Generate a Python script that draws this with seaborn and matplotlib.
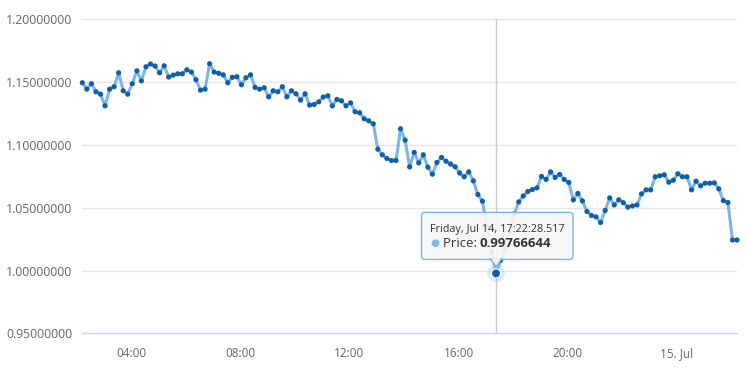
import numpy as np
import pandas as pd
import seaborn as sns
import matplotlib.pyplot as plt
import matplotlib.dates as mdates
from matplotlib.patches import FancyBboxPatch, Polygon, Circle

# price series, one reading every 10 minutes
start_time = "2017-07-14 02:12:28.517"
step = "10min"
price = [
    1.1495, 1.1444, 1.1487, 1.1423, 1.1404, 1.1311, 1.1444, 1.1463, 1.1574, 1.1431,
    1.1404, 1.1487, 1.1590, 1.1510, 1.1622, 1.1644, 1.1628, 1.1574, 1.1630, 1.1540,
    1.1556, 1.1566, 1.1566, 1.1598, 1.1580, 1.1519, 1.1436, 1.1444, 1.1646, 1.1580,
    1.1570, 1.1558, 1.1495, 1.1538, 1.1543, 1.1479, 1.1535, 1.1558, 1.1458, 1.1444,
    1.1455, 1.1383, 1.1431, 1.1423, 1.1463, 1.1383, 1.1431, 1.1407, 1.1357, 1.1407,
    1.1317, 1.1322, 1.1343, 1.1381, 1.1391, 1.1311, 1.1362, 1.1351, 1.1311, 1.1335,
    1.1264, 1.1256, 1.1208, 1.1192, 1.1168, 1.0966, 1.0921, 1.0892, 1.0876, 1.0876,
    1.1128, 1.1038, 1.0825, 1.0940, 1.0857, 1.0921, 1.0823, 1.0767, 1.0860, 1.0900,
    1.0870, 1.0848, 1.0826, 1.0776, 1.0746, 1.0785, 1.0714, 1.0605, 1.0552, 1.0350,
    1.0150, 0.99766644, 1.0080, 1.0180, 1.0300, 1.0450, 1.0546, 1.0594, 1.0629, 1.0645,
    1.0658, 1.0749, 1.0725, 1.0785, 1.0741, 1.0765, 1.0725, 1.0701, 1.0562, 1.0613,
    1.0554, 1.0470, 1.0438, 1.0427, 1.0382, 1.0478, 1.0578, 1.0522, 1.0563, 1.0540,
    1.0505, 1.0514, 1.0522, 1.0610, 1.0642, 1.0642, 1.0746, 1.0754, 1.0762, 1.0703,
    1.0719, 1.0770, 1.0746, 1.0746, 1.0642, 1.0711, 1.0674, 1.0695, 1.0695, 1.0698,
    1.0650, 1.0557, 1.0541, 1.0243, 1.0243,
]
hover_index = 91  # the point under the tooltip

tick_times = ["2017-07-14 04:00", "2017-07-14 08:00", "2017-07-14 12:00",
              "2017-07-14 16:00", "2017-07-14 20:00", "2017-07-15 00:00"]
tick_labels = ["04:00", "08:00", "12:00", "16:00", "20:00", "15. Jul"]
y_ticks = [0.95, 1.00, 1.05, 1.10, 1.15, 1.20]

df = pd.DataFrame({
    "time": pd.date_range(start_time, periods=len(price), freq=step),
    "price": price,
})

sns.set_style("white")
plt.rcParams["font.family"] = ["Open Sans", "DejaVu Sans"]

LINE = "#7cb5ec"
MARK = "#0f5fa6"
TXT = "#666666"

fig = plt.figure(figsize=(7.47, 3.70), dpi=100)
ax = fig.add_axes([82.3 / 747, (370 - 333.3) / 370, (737 - 82.3) / 747, (333.3 - 19.3) / 370])

sns.lineplot(data=df, x="time", y="price", ax=ax, color=LINE, linewidth=2.2, zorder=2)
sns.scatterplot(data=df, x="time", y="price", ax=ax, color=MARK, s=14,
                edgecolor="none", zorder=3, clip_on=False)

ax.set_xlim(df["time"].iloc[0], df["time"].iloc[-1])
ax.set_ylim(y_ticks[0], y_ticks[-1])
ax.set_yticks(y_ticks)
ax.set_yticklabels([f"{v:.8f}" for v in y_ticks])
ax.set_xticks(pd.to_datetime(tick_times))
ax.set_xticklabels(tick_labels)
ax.set_xlabel("")
ax.set_ylabel("")

ax.grid(axis="y", color="#e6e6e6", linewidth=1)
ax.grid(axis="x", visible=False)
for side in ["top", "right", "left"]:
    ax.spines[side].set_visible(False)
ax.spines["bottom"].set_color("#ccd6eb")
ax.spines["bottom"].set_linewidth(1)
ax.tick_params(axis="x", colors="#ccd6eb", length=7, width=1, direction="out",
               labelcolor=TXT, labelsize=8.5, pad=3)
ax.tick_params(axis="y", length=0, labelcolor=TXT, labelsize=8.8, pad=7)

# hovered point: crosshair, halo and bigger marker
hx = mdates.date2num(df["time"].iloc[hover_index])
hy = df["price"].iloc[hover_index]
ax.axvline(hx, color="#cccccc", linewidth=1, zorder=1)
px, py = ax.transData.transform((hx, hy))
fig.patches.append(Circle((px, py), 9, transform=None, facecolor=LINE,
                          alpha=0.25, edgecolor="none", zorder=5))
fig.patches.append(Circle((px, py), 4.5, transform=None, facecolor=MARK,
                          edgecolor="white", linewidth=0.8, zorder=6))

# tooltip, positioned relative to the hovered point
bx0, bx1 = px - 74.5, px + 77
by0, by1 = py + 14, py + 61
fill = (0.97, 0.97, 0.97, 0.92)
box = FancyBboxPatch((bx0, by0), bx1 - bx0, by1 - by0,
                     boxstyle="round,pad=0,rounding_size=3", transform=None,
                     facecolor=fill, edgecolor=LINE, linewidth=1, zorder=7)
fig.patches.append(box)
tri = Polygon([(px - 6, by0 + 0.6), (px, py + 7), (px + 6, by0 + 0.6)], closed=True,
              transform=None, facecolor=fill, edgecolor=LINE, linewidth=1, zorder=7)
fig.patches.append(tri)
fig.patches.append(Polygon([(px - 5, by0 + 1.2), (px + 5, by0 + 1.2), (px, by0 - 3)],
                           closed=True, transform=None, facecolor=(0.97, 0.97, 0.97),
                           edgecolor="none", zorder=8))

tx = bx0 + 8
fig.text(tx / 747, (py + 41) / 370, "Friday, Jul 14, 17:22:28.517", fontsize=7.8,
         color="#333333", va="baseline", zorder=9)
fig.text((tx + 5) / 747, (py + 30) / 370, "\u25cf", fontsize=7.5, color=LINE,
         ha="center", va="center", zorder=9)
fig.text((tx + 13) / 747, (py + 26) / 370, "Price: ", fontsize=9.5, color="#333333",
         va="baseline", zorder=9)
fig.text((tx + 50) / 747, (py + 26) / 370, f"{hy:.8f}", fontsize=9.5,
         fontweight="bold", color="#333333", va="baseline", zorder=9)

fig.savefig("out.png", dpi=100)
